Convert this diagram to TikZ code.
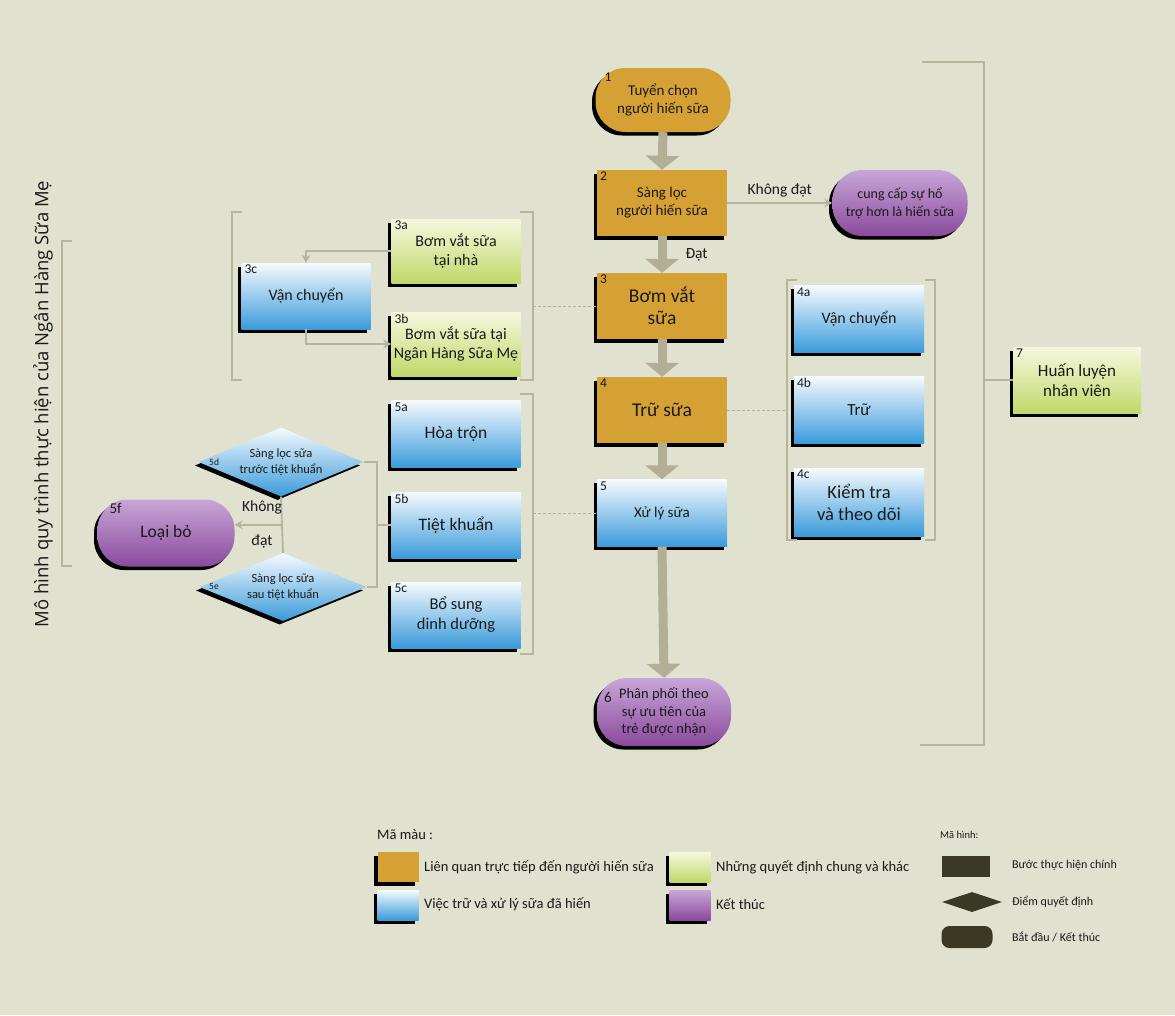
\documentclass[tikz,border=0pt]{standalone}
\usepackage{fontspec}
\setmainfont{Carlito}
\newfontfamily\titlefont{Open Sans}
\usetikzlibrary{shapes.geometric,shadows,arrows.meta,calc}
\definecolor{bg}{HTML}{E0E1CF}
\definecolor{gold}{HTML}{D5A034}
\definecolor{bltop}{HTML}{F6FAFE}
\definecolor{blbot}{HTML}{3A9BDA}
\definecolor{grtop}{HTML}{F5F8DE}
\definecolor{grbot}{HTML}{C2D76A}
\definecolor{pptop}{HTML}{C8A6D8}
\definecolor{ppbot}{HTML}{8A4A9C}
\definecolor{arr}{HTML}{B3AE96}
\definecolor{lin}{HTML}{B8B49C}
\definecolor{txt}{HTML}{1A1A1A}
\definecolor{dk}{HTML}{3B3823}
\newcommand\myfs[2]{\fontsize{#1}{#2}\selectfont}
\tikzset{
 shad/.style={drop shadow={shadow xshift=-3.5pt,shadow yshift=-3.5pt,fill=black,opacity=1}},
 box/.style={rectangle,minimum width=130pt,minimum height=66pt,inner sep=2pt,align=center,text=txt,font=\myfs{15}{18},shad},
 goldbox/.style={box,fill=gold},
 bluebox/.style={box,top color=bltop,bottom color=blbot},
 greenbox/.style={box,top color=grtop,bottom color=grbot},
 term/.style={box,rounded corners=30pt,top color=pptop,bottom color=ppbot},
 dec/.style={diamond,aspect=2.4,inner sep=0pt,minimum width=165pt,minimum height=69pt,align=center,text=txt,font=\myfs{12.5}{16},top color=bltop,bottom color=blbot,shad},
 num/.style={anchor=north west,inner sep=0pt,text=txt,font=\myfs{13.5}{13.5}},
 bigarrow/.style={draw=arr,line width=9pt,-{Triangle[width=33pt,length=14pt]}},
 thinarrow/.style={draw=lin,line width=1.6pt,-{Stealth[length=8pt,width=9pt]}},
 brk/.style={draw=lin,line width=1.8pt},
 dotline/.style={draw=lin,line width=1pt,dash pattern=on 3pt off 2pt},
 lbl/.style={text=txt,inner sep=1pt},
 sw/.style={rectangle,minimum width=41pt,minimum height=30pt,inner sep=0pt,shad},
 lg/.style={anchor=west,text=txt,inner sep=0pt,font=\myfs{14.5}{16}},
 lgs/.style={anchor=west,text=txt,inner sep=0pt,font=\myfs{12}{14}},
}
\begin{document}
\begin{tikzpicture}[x=1pt,y=-1pt]
\useasboundingbox[fill=bg] (0,0) rectangle (1175,1015);

% title
\node[rotate=90,text=txt,font=\titlefont\myfs{18.5}{22}] (title) at (43,404) {Mô hình quy trình thực hiện của Ngân Hàng Sữa Mẹ};
\draw[brk] (72,241) -- (62,241) -- (62,566) -- (72,566);

% main column
\node[goldbox,rounded corners=30pt,minimum width=135pt,minimum height=64pt] (n1) at (663,100) {Tuyển chọn\\người hiến sữa};
\node[goldbox] (n2) at (662,203) {Sàng lọc\\người hiến sữa};
\node[term,minimum width=135pt,font=\myfs{14}{18}] (n2x) at (900,203) {cung cấp sự hổ\\trợ hơn là hiến sữa};
\node[goldbox,font=\myfs{19.5}{22}] (n3) at (662,306) {Bơm vắt\\sữa};
\node[goldbox,font=\myfs{19.5}{22}] (n4) at (662,410) {Trữ sữa};
\node[bluebox,minimum height=67pt] (n5) at (662,513) {Xử lý sữa};
\node[term,minimum width=134pt,minimum height=68pt,font=\myfs{14.5}{17.5}] (n6) at (664,712) {Phân phối theo\\sự ưu tiên của\\trẻ được nhận};

\node[num] at ([xshift=9pt,yshift=-5pt]n1.north west) {1};
\node[num] at ([xshift=3pt,yshift=-2pt]n2.north west) {2};
\node[num] at ([xshift=3pt,yshift=-2pt]n3.north west) {3};
\node[num] at ([xshift=3pt,yshift=-2pt]n4.north west) {4};
\node[num] at ([xshift=3pt,yshift=-2pt]n5.north west) {5};
\node[num,anchor=west,font=\myfs{15}{15}] at (604,697) {6};

\draw[bigarrow] (n1.south) -- (n2.north);
\draw[bigarrow] (n2.south) -- (n3.north) node[midway,anchor=west,xshift=18pt,lbl,font=\myfs{15.5}{17}] {Đạt};
\draw[bigarrow] (n3.south) -- (n4.north);
\draw[bigarrow] (n4.south) -- (n5.north);
\draw[bigarrow] (n5.south) -- (n6.north);
\draw[thinarrow] (n2.east) -- (n2x.west) node[midway,above=4pt,lbl,font=\myfs{15.5}{17}] {Không đạt};

% group 3
\node[greenbox,minimum width=129pt,minimum height=64pt,font=\myfs{16}{19}] (n3a) at (456,251) {Bơm vắt sữa\\tại nhà};
\node[greenbox,minimum width=129pt,minimum height=64pt,font=\myfs{16}{19}] (n3b) at (456,344) {Bơm vắt sữa tại\\Ngân Hàng Sữa Mẹ};
\node[bluebox,minimum width=129pt,font=\myfs{16}{19}] (n3c) at (306,296) {Vận chuyển};
\node[num] at ([xshift=3pt,yshift=-2pt]n3a.north west) {3a};
\node[num] at ([xshift=3pt,yshift=-2pt]n3b.north west) {3b};
\node[num] at ([xshift=3pt,yshift=-2pt]n3c.north west) {3c};
\draw[thinarrow] (n3a.west) -| (n3c.north);
\draw[thinarrow] (n3c.south) |- (n3b.west);
\draw[brk] (520,212) -- (533,212) -- (533,380) -- (520,380);
\draw[brk] (242,212) -- (232,212) -- (232,380) -- (242,380);
\coordinate (g3) at (533,306);
\draw[dotline] (g3) -- (n3.west);

% group 4
\node[bluebox,minimum height=67pt,font=\myfs{16}{19}] (n4a) at (859,319) {Vận chuyển};
\node[bluebox,minimum height=67pt,font=\myfs{17}{19}] (n4b) at (859,410) {Trữ};
\node[bluebox,minimum height=68pt,font=\myfs{18.5}{22}] (n4c) at (859,502) {Kiểm tra\\và theo dõi};
\node[num] at ([xshift=3pt,yshift=-2pt]n4a.north west) {4a};
\node[num] at ([xshift=3pt,yshift=-2pt]n4b.north west) {4b};
\node[num] at ([xshift=3pt,yshift=-2pt]n4c.north west) {4c};
\draw[brk] (797,280) -- (787,280) -- (787,540) -- (797,540);
\draw[brk] (925,280) -- (935,280) -- (935,540) -- (925,540);
\coordinate (g4) at (787,410);
\draw[dotline] (n4.east) -- (g4);

% group 7
\node[greenbox,minimum width=128pt,font=\myfs{17}{20}] (n7) at (1077,380) {Huấn luyện\\nhân viên};
\node[num] at ([xshift=3pt,yshift=-2pt]n7.north west) {7};
\draw[brk] (922,62) -- (984,62) -- (984,745) -- (920,745);
\coordinate (g7) at (984,380);
\draw[brk] (g7) -- (n7.west);

% group 5
\node[bluebox,minimum width=129pt,minimum height=67pt,font=\myfs{17.5}{20}] (n5a) at (456,434) {Hòa trộn};
\node[bluebox,minimum width=129pt,font=\myfs{17.5}{20}] (n5b) at (456,525) {Tiệt khuẩn};
\node[bluebox,minimum width=129pt,font=\myfs{16.5}{20}] (n5c) at (456,615) {Bổ sung\\dinh dưỡng};
\node[num] at ([xshift=3pt,yshift=-2pt]n5a.north west) {5a};
\node[num] at ([xshift=3pt,yshift=-2pt]n5b.north west) {5b};
\node[num] at ([xshift=3pt,yshift=-2pt]n5c.north west) {5c};
\draw[brk] (520,394) -- (533,394) -- (533,654) -- (520,654);
\coordinate (g5) at (533,513);
\draw[dotline] (g5) -- (n5.west);

\node[dec] (n5d) at (281,462) {Sàng lọc sữa\\trước tiệt khuẩn};
\node[dec,minimum width=167pt,minimum height=68pt] (n5e) at (283,587) {Sàng lọc sữa\\sau tiệt khuẩn};
\node[num,anchor=west,font=\myfs{9.5}{9.5}] at (209,462) {5d};
\node[num,anchor=west,font=\myfs{9.5}{9.5}] at (209,586) {5e};
\node[term,minimum width=137pt,minimum height=67pt,font=\myfs{17.5}{20}] (n5f) at (166,533) {Loại bỏ};
\node[num,font=\myfs{15}{15}] at ([xshift=12pt,yshift=-4pt]n5f.north west) {5f};

\coordinate (b5) at (377,525);
\draw[brk] (n5d.east) -| (b5) |- (n5e.east);
\draw[brk] (b5) -- (n5b.west);
\draw[brk] (n5d.south) -- (n5e.north);
\coordinate (m5) at ($(n5d.south)!.5!(n5e.north)$);
\draw[thinarrow] (m5) -- (m5 -| n5f.east);
\node[lbl,font=\myfs{15.5}{17}] (kd1) at (262,507) {Không};
\node[lbl,font=\myfs{15.5}{17}] (kd2) at (262,541) {đạt};

% legend colours
\node[lg] (lt1) at (377,835) {Mã màu :};
\node[sw,fill=gold] (s1) at (398,867) {};
\node[lg] (t1) at (424,867) {Liên quan trực tiếp đến người hiến sữa};
\node[sw,top color=grtop,bottom color=grbot] (s2) at (690,867) {};
\node[lg] (t2) at (716,867) {Những quyết định chung và khác};
\node[sw,top color=bltop,bottom color=blbot] (s3) at (398,905) {};
\node[lg] (t3) at (424,904) {Việc trữ và xử lý sữa đã hiến};
\node[sw,top color=pptop,bottom color=ppbot] (s4) at (690,905) {};
\node[lg] (t4) at (716,904) {Kết thúc};

% legend shapes
\node[lgs,font=\myfs{10.5}{12}] (lt2) at (940,835) {Mã hình:};
\node[rectangle,fill=dk,minimum width=48pt,minimum height=21pt,inner sep=0pt] (h1) at (966,866) {};
\node[lgs] (ht1) at (1012,865) {Bước thực hiện chính};
\node[diamond,fill=dk,minimum width=60pt,minimum height=20pt,aspect=3,inner sep=0pt] (h2) at (972,902) {};
\node[lgs] (ht2) at (1012,902) {Điểm quyết định};
\node[rectangle,rounded corners=8pt,fill=dk,minimum width=51pt,minimum height=22pt,inner sep=0pt] (h3) at (967,937) {};
\node[lgs] (ht3) at (1012,937) {Bắt đầu / Kết thúc};
\end{tikzpicture}
\end{document}
